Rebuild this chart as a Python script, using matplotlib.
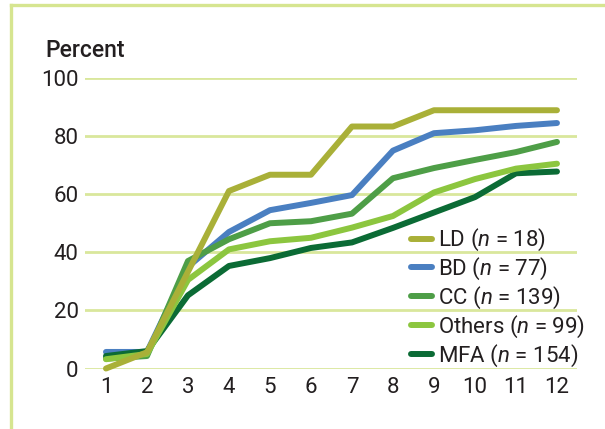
import matplotlib.pyplot as plt
from matplotlib.lines import Line2D

plt.rcParams['font.family'] = ['Roboto', 'DejaVu Sans']
plt.rcParams['mathtext.fontset'] = 'custom'
plt.rcParams['mathtext.it'] = 'Roboto:italic'
plt.rcParams['mathtext.rm'] = 'Roboto'

months = list(range(1, 13))
ld = [0, 5.6, 33.3, 61.1, 66.7, 66.7, 83.3, 83.3, 88.9, 88.9, 88.9, 88.9]
bd = [5.7, 5.7, 35, 47, 54.5, 57, 59.7, 75, 81, 82, 83.5, 84.5]
cc = [3.4, 4.3, 37, 44.5, 50, 50.7, 53.3, 65.5, 69, 71.8, 74.5, 78]
others = [3.2, 5, 30.5, 41, 43.8, 45, 48.5, 52.5, 60.6, 65.2, 68.8, 70.5]
mfa = [4.3, 6, 25.2, 35.3, 38, 41.5, 43.4, 48.4, 53.7, 59, 67.2, 67.8]

labels = ['LD ($n$ = 18)', 'BD ($n$ = 77)', 'CC ($n$ = 139)',
          'Others ($n$ = 99)', 'MFA ($n$ = 154)']
colors = ['#a9b038', '#4a7fc1', '#4e9e47', '#8cc63f', '#0b6b35']
series = [ld, bd, cc, others, mfa]

text_col = '#231f20'
grid_col = '#d9e79c'
fs = 16

fig = plt.figure(figsize=(6.05, 4.29), dpi=100)
ax = fig.add_axes([0.1413, 0.141, 0.8132, 0.6772])

for y in range(0, 101, 20):
    ax.axhline(y, color=grid_col, lw=2.0, zorder=1)

handles = {}
for i in [1, 2, 4, 3, 0]:
    h, = ax.plot(months, series[i], color=colors[i], lw=4.3,
                 solid_capstyle='round', solid_joinstyle='round',
                 clip_on=False, zorder=3, label=labels[i])
    handles[i] = h

ax.set_xlim(0.5, 12.5)
ax.set_ylim(0, 100)
ax.set_xticks(months)
ax.set_yticks(range(0, 101, 20))
ax.tick_params(length=0, labelsize=fs, colors=text_col)
ax.tick_params(axis='x', pad=6)
ax.tick_params(axis='y', pad=5)
for s in ax.spines.values():
    s.set_visible(False)

leg = ax.legend([handles[i] for i in range(5)], labels,
                loc='lower left', bbox_to_anchor=(411 / 605, 60 / 429),
                bbox_transform=fig.transFigure, frameon=False,
                fontsize=fs, handlelength=0.95, handletextpad=0.25,
                labelspacing=0.12, borderpad=0, borderaxespad=0)
for t in leg.get_texts():
    t.set_color(text_col)

fig.text(45 / 605, 372 / 429, 'Percent', fontsize=16.5, fontweight='medium',
         color=text_col, va='baseline', ha='left')

# frame lines at the top and the left
fig.add_artist(Line2D([11 / 605, 1], [424 / 429, 424 / 429],
                      color='#d6e590', lw=2.4, transform=fig.transFigure))
fig.add_artist(Line2D([11 / 605, 11 / 605], [0, 424 / 429],
                      color='#d6e590', lw=2.4, transform=fig.transFigure))

fig.savefig('out.png', dpi=100)
